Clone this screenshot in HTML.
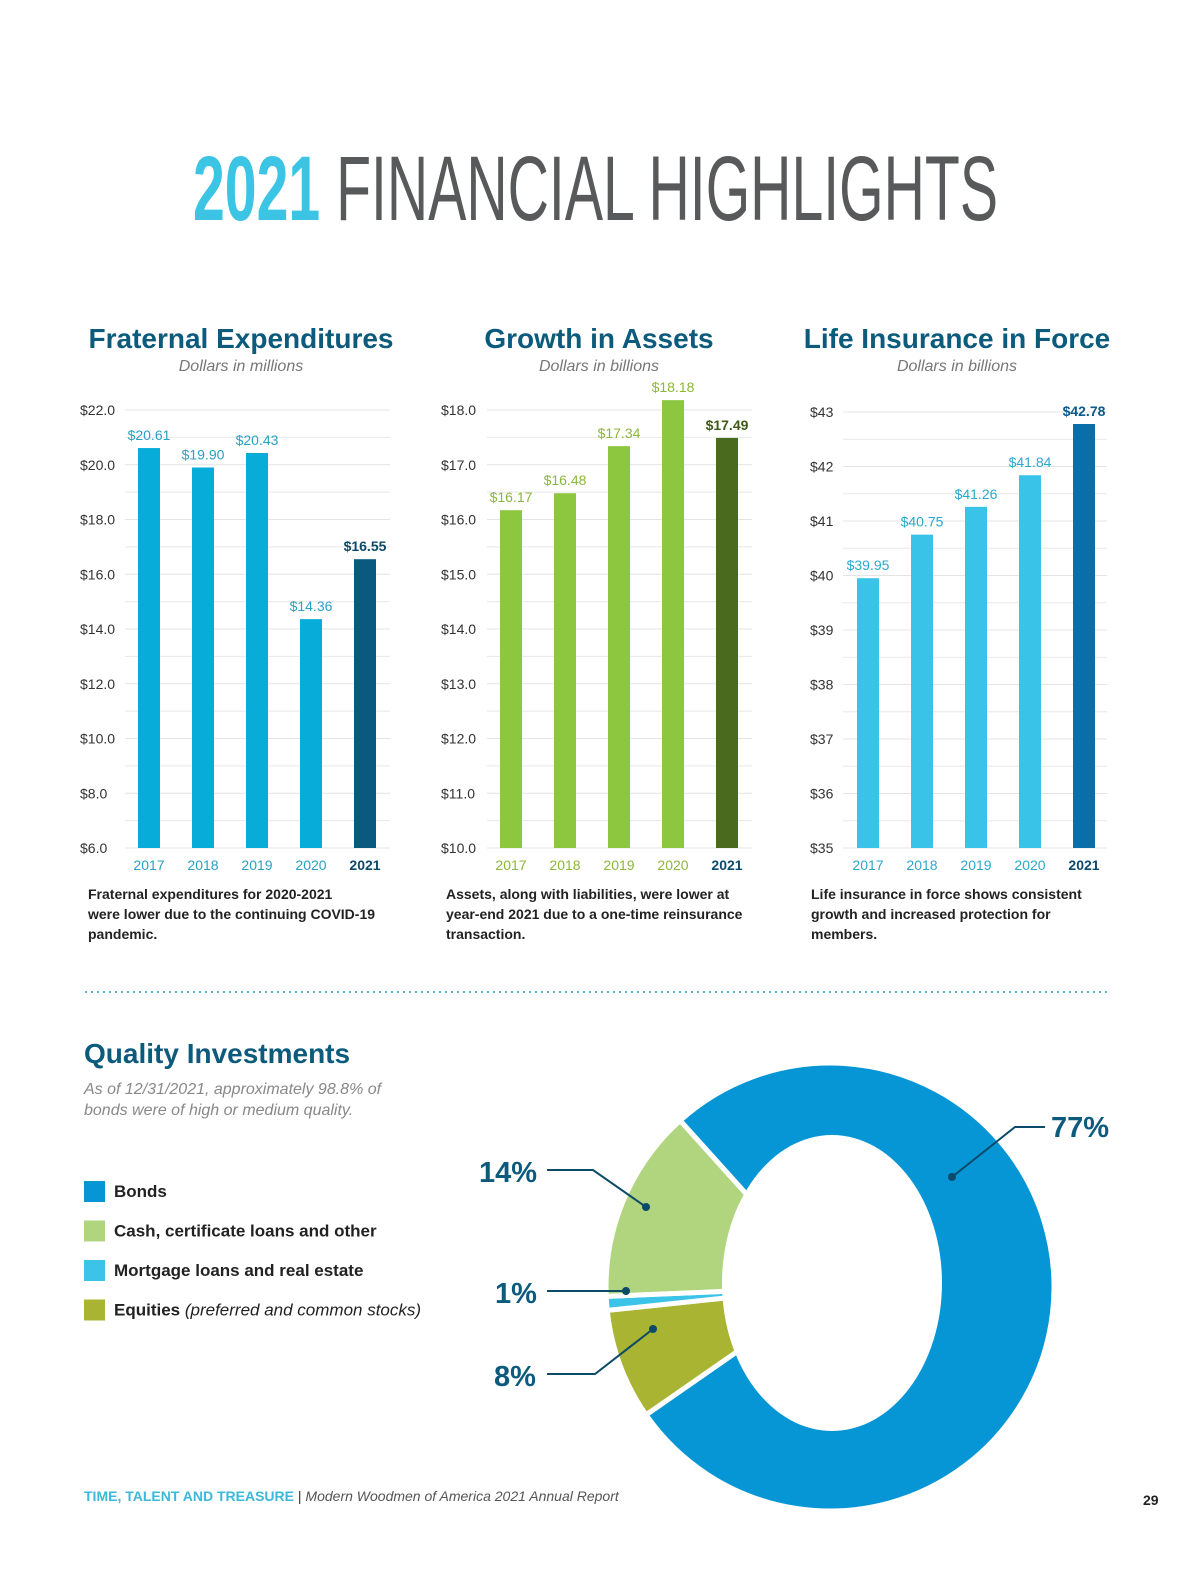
<!DOCTYPE html>
<html><head><meta charset="utf-8"><style>
html,body{margin:0;padding:0;background:#fff;}
svg{display:block;font-family:"Liberation Sans",sans-serif;}
</style></head><body>
<svg id="page" width="1200" height="1575" viewBox="0 0 1200 1575" xmlns="http://www.w3.org/2000/svg">
<text x="193" y="220" font-size="92" textLength="805" lengthAdjust="spacingAndGlyphs"><tspan fill="#3cc4e5" font-weight="bold">2021</tspan><tspan fill="#58595b"> FINANCIAL HIGHLIGHTS</tspan></text>
<g id="charts"></g>
<line x1="85" y1="992" x2="1110" y2="992" stroke="#5bb8c6" stroke-width="2" stroke-dasharray="2,4"/>
<text x="84" y="1063" font-size="28" font-weight="bold" fill="#0c5a7c">Quality Investments</text>
<text font-size="16" font-style="italic" fill="#888"><tspan x="84" y="1094">As of 12/31/2021, approximately 98.8% of</tspan><tspan x="84" y="1115">bonds were of high or medium quality.</tspan></text>
<g id="legend"></g>
<g id="donut"></g>
<text x="84" y="1501" font-size="14" font-weight="bold" fill="#3cb8d8">TIME, TALENT AND TREASURE <tspan fill="#333" font-weight="normal">|</tspan> <tspan fill="#555" font-weight="normal" font-style="italic">Modern Woodmen of America 2021 Annual Report</tspan></text>
<text x="1143" y="1505" font-size="14" font-weight="bold" fill="#222">29</text>
</svg>
<script>
const NS="http://www.w3.org/2000/svg";
const years=["2017","2018","2019","2020","2021"];
const expValues=[20.61,19.90,20.43,14.36,16.55];
const expLabels=["$20.61","$19.90","$20.43","$14.36","$16.55"];
const expTicks=[6,8,10,12,14,16,18,20,22];
const assetValues=[16.17,16.48,17.34,18.18,17.49];
const assetLabels=["$16.17","$16.48","$17.34","$18.18","$17.49"];
const assetTicks=[10,11,12,13,14,15,16,17,18];
const lifeValues=[39.95,40.75,41.26,41.84,42.78];
const lifeLabels=["$39.95","$40.75","$41.26","$41.84","$42.78"];
const lifeTicks=[35,36,37,38,39,40,41,42,43];
const pieCategories=["Bonds","Equities","Mortgage loans and real estate","Cash, certificate loans and other"];
const pieValues=[77,8,1,14];

function mk(tag,attrs,parent,text){const e=document.createElementNS(NS,tag);for(const k in attrs)e.setAttribute(k,attrs[k]);if(text!==undefined)e.textContent=text;parent.appendChild(e);return e;}
const charts=document.getElementById('charts');

function barChart(cfg){
  const g=mk('g',{},charts);
  
  
  const t=cfg.ticks, lo=t[0], hi=t[t.length-1];
  const y=v=>cfg.y1-(v-lo)/(hi-lo)*(cfg.y1-cfg.y0);
  const x=i=>cfg.xc+i*54;
  const title=mk('text',{x:cfg.cx,y:348,'font-size':28,'font-weight':'bold',fill:'#0c5a7c','text-anchor':'middle'},g,cfg.title);
  
  
  const sub=mk('text',{x:cfg.cx,y:371,'font-size':16,'font-style':'italic',fill:'#777','text-anchor':'middle'},g,cfg.sub);
  
  
  for(let i=0;i<t.length;i++){
    const gl=mk('line',{x1:cfg.gx0,x2:cfg.gx1,y1:y(t[i]),y2:y(t[i]),stroke:'#e4e4e4','stroke-width':1},g);
    
    
    if(i<t.length-1){const m=(t[i]+t[i+1])/2;const gm=mk('line',{x1:cfg.gx0,x2:cfg.gx1,y1:y(m),y2:y(m),stroke:'#e8e8e8','stroke-width':1},g);
      
      }
    const tl=mk('text',{x:cfg.tx,y:y(t[i])+5,'font-size':14,fill:'#333'},g,cfg.fmt(t[i]));
    
    
  }
  cfg.values.forEach((v,i)=>{
    const last=i===cfg.values.length-1;
    const r=mk('rect',{x:x(i)-11,y:y(v),width:22,height:cfg.y1-y(v),fill:last?cfg.dark:cfg.color},g);
    
    
    const lb=mk('text',{x:x(i),y:y(v)-8,'font-size':14,'text-anchor':'middle',fill:last?cfg.darkText:cfg.labelColor,'font-weight':last?'bold':'normal'},g,cfg.labels[i]);
    
    
    const xl=mk('text',{x:x(i),y:870,'font-size':14,'text-anchor':'middle',fill:last?'#0c4a6a':cfg.labelColor,'font-weight':last?'bold':'normal'},g,years[i]);
    
    
  });
  const c=mk('text',{'font-size':14,'font-weight':'bold',fill:'#222'},g);
  
  
  cfg.caption.forEach((s,i)=>mk('tspan',{x:cfg.capx,y:899+i*20},c,s));
}
barChart({name:'fraternal-expenditures-chart',title:'Fraternal Expenditures',sub:'Dollars in millions',cx:241,ticks:expTicks,values:expValues,labels:expLabels,
  y0:410,y1:848,xc:149,gx0:125,gx1:390,tx:80,fmt:v=>'$'+v.toFixed(1),color:'#07acd9',dark:'#0a5a7f',labelColor:'#2aa0c4',darkText:'#0c4a6a',
  capx:88,caption:['Fraternal expenditures for 2020-2021','were lower due to the continuing COVID-19','pandemic.']});
barChart({name:'growth-in-assets-chart',title:'Growth in Assets',sub:'Dollars in billions',cx:599,ticks:assetTicks,values:assetValues,labels:assetLabels,
  y0:410,y1:848,xc:511,gx0:487,gx1:752,tx:441,fmt:v=>'$'+v.toFixed(1),color:'#8dc63f',dark:'#4a6b1e',labelColor:'#8cb83a',darkText:'#3e5a16',
  capx:446,caption:['Assets, along with liabilities, were lower at','year-end 2021 due to a one-time reinsurance','transaction.']});
barChart({name:'life-insurance-chart',title:'Life Insurance in Force',sub:'Dollars in billions',cx:957,ticks:lifeTicks,values:lifeValues,labels:lifeLabels,
  y0:412,y1:848,xc:868,gx0:843,gx1:1107,tx:810,fmt:v=>'$'+v,color:'#39c3e8',dark:'#0a6fa8',labelColor:'#2aa8cc',darkText:'#0c5a8a',
  capx:811,caption:['Life insurance in force shows consistent','growth and increased protection for','members.']});

const legendColors=['#0796d5','#b1d57f','#3cc4e8','#a8b432'];
const legendNames=['Bonds','Cash, certificate loans and other','Mortgage loans and real estate','Equities'];
const lg=document.getElementById('legend');
legendNames.forEach((n,i)=>{
  const yy=1181+i*39.5;
  const r=mk('rect',{x:84,y:yy,width:21,height:21,fill:legendColors[i]},lg);
  
  
  const t=mk('text',{x:114,y:yy+16,'font-size':17,'font-weight':'bold',fill:'#222'},lg,n);
  
  
  if(i===3){mk('tspan',{'font-weight':'normal','font-style':'italic'},t,' (preferred and common stocks)');}
});

const dg=document.getElementById('donut');
const pieColors=['#0796d5','#a8b432','#3cc4e8','#b1d57f'];
const cx=830,cy=1287,R=224;
let ang=318;
const rad=a=>(a-90)*Math.PI/180;
pieValues.forEach((v,i)=>{
  const a0=ang,a1=ang+v/100*360;ang=a1;
  const large=(a1-a0)>180?1:0;
  const p=`M${cx},${cy} L${cx+R*Math.cos(rad(a0))},${cy+R*Math.sin(rad(a0))} A${R},${R} 0 ${large} 1 ${cx+R*Math.cos(rad(a1))},${cy+R*Math.sin(rad(a1))} Z`;
  const s=mk('path',{d:p,fill:pieColors[i],stroke:'#fff','stroke-width':5,'stroke-linejoin':'miter'},dg);
  
  
});
const hole=mk('ellipse',{cx:cx+2,cy:cy-4,rx:110,ry:148,fill:'#fff'},dg);


const callouts=[
  {t:pieValues[0]+'%',tx:1080,ty:1137,anchor:'middle',pts:'1045,1127 1015,1127 952,1177',dot:[952,1177]},
  {t:pieValues[3]+'%',tx:508,ty:1182,anchor:'middle',pts:'547,1170 593,1170 646,1207',dot:[646,1207]},
  {t:pieValues[2]+'%',tx:516,ty:1303,anchor:'middle',pts:'547,1291 626,1291',dot:[626,1291]},
  {t:pieValues[1]+'%',tx:515,ty:1386,anchor:'middle',pts:'547,1374 595,1374 653,1329',dot:[653,1329]}
];
callouts.forEach(c=>{
  const l=mk('polyline',{points:c.pts,fill:'none',stroke:'#0c4a6a','stroke-width':2},dg);
  
  
  const d=mk('circle',{cx:c.dot[0],cy:c.dot[1],r:4,fill:'#0c4a6a'},dg);
  
  
  const t=mk('text',{x:c.tx,y:c.ty,'font-size':29,'font-weight':'bold',fill:'#0c5a7c','text-anchor':c.anchor},dg,c.t);
  
  
});
</script>
</body></html>
